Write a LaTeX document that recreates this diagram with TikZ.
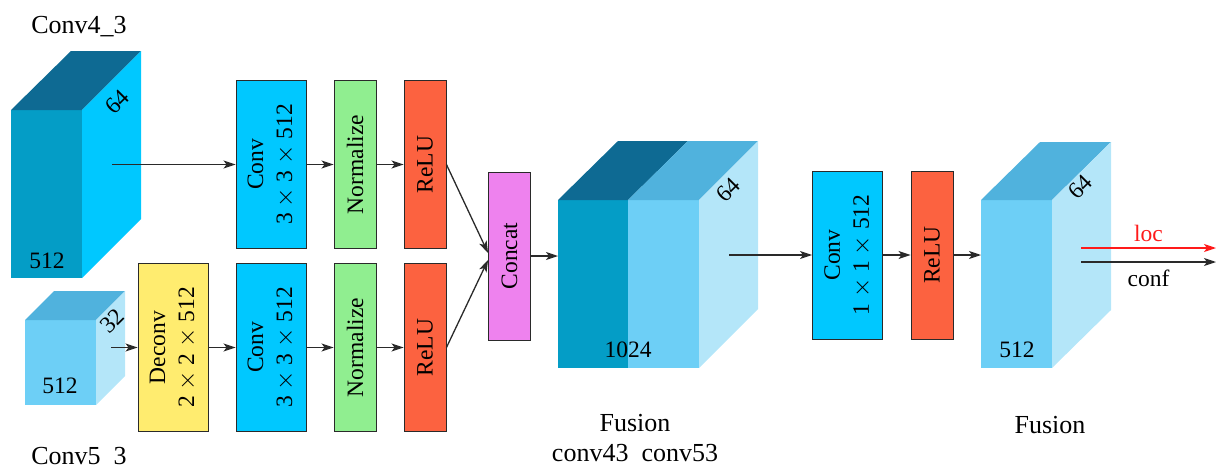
\documentclass[tikz,border=0pt]{standalone}
\usepackage{fontspec}
\setmainfont{Liberation Serif}
\usetikzlibrary{arrows.meta}
\definecolor{dtop}{HTML}{0E6A93}
\definecolor{dfront}{HTML}{049DC6}
\definecolor{dside}{HTML}{00C8FF}
\definecolor{ltop}{HTML}{50B2DD}
\definecolor{lfront}{HTML}{6DCFF6}
\definecolor{lside}{HTML}{B4E6F9}
\definecolor{convc}{HTML}{00C8FF}
\definecolor{normc}{HTML}{90EE90}
\definecolor{reluc}{HTML}{FC6240}
\definecolor{catc}{HTML}{EE82EE}
\definecolor{decc}{HTML}{FFEC6F}
\definecolor{linec}{HTML}{2A2A2A}
\definecolor{locc}{HTML}{FF1A1A}
\newcommand{\tms}{\ $\times$\ }
\begin{document}
\begin{tikzpicture}[x=1pt,y=-1pt,
  blk/.style={draw=linec,line width=0.9pt,rotate=90,align=center,inner sep=0pt,
    font=\fontsize{23.5}{29}\selectfont},
  wide/.style={blk,minimum width=168pt,minimum height=70pt},
  thin/.style={blk,minimum width=168pt,minimum height=42pt},
  arr/.style={draw=linec,line width=1.3pt,-{Stealth[length=12pt,width=8pt,inset=3pt]}},
  lbl/.style={font=\fontsize{26}{30}\selectfont,inner sep=0pt},
  dim/.style={font=\fontsize{23.5}{28}\selectfont,inner sep=0pt}]
\useasboundingbox (0,0) rectangle (1216,466);
% Conv4_3 cube
\fill[dfront] (11,110) rectangle (82,278);
\fill[dtop] (11,110) -- (71,51) -- (141,51) -- (82,110) -- cycle;
\fill[dside] (82,110) -- (141,51) -- (141,219) -- (82,278) -- cycle;
\node[dim,rotate=45] (d64a) at (117,102) {64};
\node[dim] (d512a) at (47,261) {512};
\node[lbl] (lab43) at (79,27) {Conv4\_3};
% Conv5_3 cube
\fill[lfront] (25,320) rectangle (96,405);
\fill[ltop] (25,320) -- (54,291) -- (125,291) -- (96,320) -- cycle;
\fill[lside] (96,320) -- (125,291) -- (125,376) -- (96,405) -- cycle;
\node[dim,rotate=45] (d32) at (112,321) {32};
\node[dim] (d512b) at (60,386) {512};
\node[lbl] (lab53) at (79,458) {Conv5\_3};
% Fusion cube
\fill[dfront] (558,200) rectangle (628,368);
\fill[lfront] (628,200) rectangle (699,368);
\fill[dtop] (558,200) -- (618,141) -- (688,141) -- (628,200) -- cycle;
\fill[ltop] (628,200) -- (688,141) -- (758,141) -- (699,200) -- cycle;
\fill[lside] (699,200) -- (758,141) -- (758,309) -- (699,368) -- cycle;
\node[dim,rotate=45] (d64b) at (728,190) {64};
\node[dim] (d1024) at (628,350) {1024};
\node[lbl,align=center] (labf1) at (635,438) {Fusion\\conv43\ \ conv53};
% Final cube
\fill[lfront] (981,200) rectangle (1052,368);
\fill[ltop] (981,200) -- (1040,142) -- (1111,142) -- (1052,200) -- cycle;
\fill[lside] (1052,200) -- (1111,142) -- (1111,310) -- (1052,368) -- cycle;
\node[dim,rotate=45] (d64c) at (1080,187) {64};
\node[dim] (d512c) at (1017,350) {512};
\node[lbl] (labf2) at (1050,425) {Fusion};
% blocks
\node[wide,fill=convc] (convA) at (271,164.5) {Conv\\3\tms3\tms512};
\node[thin,fill=normc] (normA) at (355,164.5) {Normalize};
\node[thin,fill=reluc] (reluA) at (425,164.5) {ReLU};
\node[wide,fill=decc] (deconv) at (173,347.5) {Deconv\\2\tms2\tms512};
\node[wide,fill=convc] (convB) at (271,347.5) {Conv\\3\tms3\tms512};
\node[thin,fill=normc] (normB) at (355,347.5) {Normalize};
\node[thin,fill=reluc] (reluB) at (425,347.5) {ReLU};
\node[thin,fill=catc] (concat) at (509.5,256) {Concat};
\node[wide,fill=convc] (conv1) at (847.5,255) {Conv\\1\tms1\tms512};
\node[thin,fill=reluc] (relu2) at (932,255) {ReLU};
% coordinates
\coordinate (s1) at (112,164.5);
\coordinate (s2) at (111,347.5);
\coordinate (f1in) at (558,256);
\coordinate (f1out) at (729,255);
\coordinate (f2in) at (981,255);
\coordinate (locs) at (1081,248);
\coordinate (loce) at (1216,248);
\coordinate (confs) at (1081,262);
\coordinate (confe) at (1216,262);
% arrows
\draw[arr] (s1) -- (convA.north);
\draw[arr] (convA.south) -- (normA.north);
\draw[arr] (normA.south) -- (reluA.north);
\draw[arr] (s2) -- (deconv.north);
\draw[arr] (deconv.south) -- (convB.north);
\draw[arr] (convB.south) -- (normB.north);
\draw[arr] (normB.south) -- (reluB.north);
\draw[arr] (reluA.south) -- ([yshift=3pt]concat.north);
\draw[arr] (reluB.south) -- ([yshift=-4pt]concat.north);
\draw[arr] (concat.south) -- (f1in);
\draw[arr] (f1out) -- (conv1.north);
\draw[arr] (conv1.south) -- (relu2.north);
\draw[arr] (relu2.south) -- (f2in);
\draw[arr,draw=locc,fill=locc] (locs) -- node[above=6pt,dim,text=locc] (loclbl) {loc} (loce);
\draw[arr] (confs) -- node[below=7pt,dim] (conflbl) {conf} (confe);
\end{tikzpicture}
\end{document}
